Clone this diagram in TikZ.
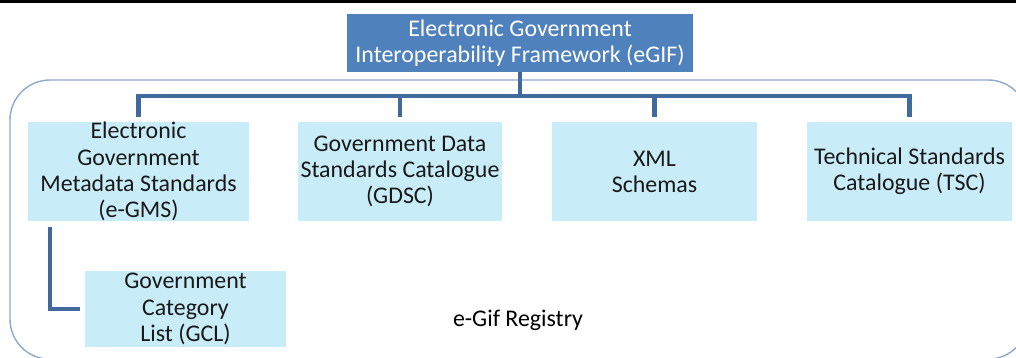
\documentclass[tikz,border=0pt]{standalone}
\usepackage{fontspec}
\setmainfont{Carlito}
\usetikzlibrary{positioning,calc}
\definecolor{egifblue}{HTML}{4F81BD}
\definecolor{linkblue}{HTML}{41699E}
\definecolor{boxcyan}{HTML}{C8ECF8}
\definecolor{rimblue}{HTML}{8EA8CC}

\begin{document}
\begin{tikzpicture}[
  font=\fontsize{17}{18.6}\selectfont,
  topbox/.style={
    fill=egifblue,
    text=white,
    minimum width=8.65cm,
    minimum height=1.45cm,
    align=center,
    inner sep=0pt
  },
  stdbox/.style={
    fill=boxcyan,
    text=black!90,
    minimum height=2.475cm,
    align=center,
    inner sep=0pt
  },
  link/.style={draw=linkblue, line width=3.5pt}
]
  \useasboundingbox (0,0) rectangle (25.4,8.95);

  % frame and rule
  \begin{scope}
    \clip (0,0) rectangle (25.4,8.95);
    \draw[rimblue, line width=1pt, rounded corners=1cm] (0.25,-0.03) rectangle (25.7,6.95);
    \draw[black, line width=2.1pt] (0,8.9125) -- (25.4,8.9125);
  \end{scope}

  \node[topbox] (egif) at (13.0,7.875) {Electronic Government\\Interoperability Framework (eGIF)};

  \node[stdbox, minimum width=5.525cm] (gms)  at (3.4625,4.6625)  {Electronic\\Government\\Metadata Standards\\(e-GMS)};
  \node[stdbox, minimum width=5.1cm]   (gdsc) at (10.0,4.6625)    {Government Data\\Standards Catalogue\\(GDSC)};
  \node[stdbox, minimum width=5.125cm] (xml)  at (16.3625,4.6625) {XML\\Schemas};
  \node[stdbox, minimum width=5.125cm] (tsc)  at (22.7375,4.6625) {Technical Standards\\Catalogue (TSC)};

  \node[stdbox, minimum width=5.025cm, minimum height=1.9cm] (gcl) at (4.6375,1.225) {Government\\Category\\List (GCL)};

  \node (registry) at (12.95,0.95) {e-Gif Registry};

  \coordinate (bus) at (13.0,6.55);
  \coordinate (gcltop) at (1.25,3.275);

  \draw[link] (egif.south) -- (egif.south |- bus);
  \draw[link] ([yshift=0.125cm]gms.north) -- (gms.north |- bus) -- (tsc.north |- bus) -- ([yshift=0.125cm]tsc.north);
  \draw[link] (gdsc.north |- bus) -- ([yshift=0.125cm]gdsc.north);
  \draw[link] (xml.north |- bus) -- ([yshift=0.125cm]xml.north);
  \draw[link] (gcltop) |- ([xshift=-0.125cm]gcl.west);

\end{tikzpicture}
\end{document}
